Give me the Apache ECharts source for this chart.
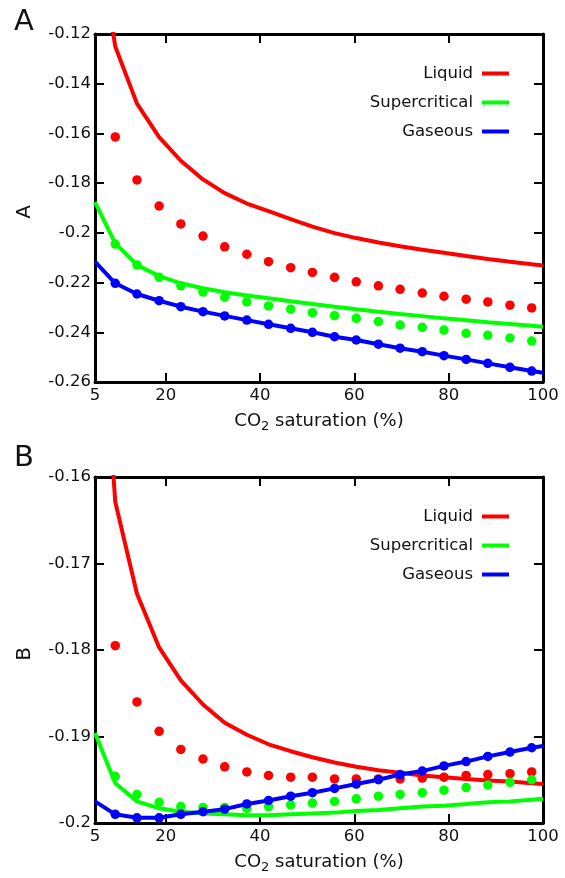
<!DOCTYPE html>
<html>
<head>
<meta charset="utf-8">
<script src="https://cdn.jsdelivr.net/npm/echarts@6/dist/echarts.min.js"></script>
<style>html,body{margin:0;padding:0;background:#fff}#c{width:565px;height:878px}</style>
</head>
<body>
<div id="c"></div>
<script>
// x positions of the sampled points (CO2 saturation, %)
const xDots = [9.3, 13.9, 18.6, 23.2, 27.9, 32.5, 37.2, 41.8, 46.5, 51.1, 55.8, 60.4, 65.1, 69.7, 74.4, 79.0, 83.7, 88.3, 93.0, 97.6];
const xLine = [5, 9.3, 13.9, 18.6, 23.2, 27.9, 32.5, 37.2, 41.8, 46.5, 51.1, 55.8, 60.4, 65.1, 69.7, 74.4, 79.0, 83.7, 88.3, 93.0, 97.6, 100];

// Panel A
const aLiquidLine = [-0.073, -0.125, -0.148, -0.1615, -0.171, -0.1785, -0.184, -0.1882, -0.1913, -0.1945, -0.1975, -0.2001, -0.2021, -0.2039, -0.2054, -0.2068, -0.2080, -0.2093, -0.2105, -0.2116, -0.2126, -0.2131];
const aLiquidDots = [-0.1614, -0.1787, -0.1892, -0.1964, -0.2013, -0.2056, -0.2086, -0.2116, -0.214, -0.2159, -0.2179, -0.2197, -0.2213, -0.2227, -0.2242, -0.2255, -0.2267, -0.2278, -0.2291, -0.2302];
const aSuperLine = [-0.1876, -0.2042, -0.2129, -0.2174, -0.2203, -0.2223, -0.2239, -0.2252, -0.2263, -0.2275, -0.2286, -0.2297, -0.2307, -0.2317, -0.2326, -0.2335, -0.2344, -0.2352, -0.236, -0.2367, -0.2374, -0.2378];
const aSuperDots = [-0.2045, -0.2129, -0.2179, -0.2213, -0.2238, -0.2259, -0.2278, -0.2294, -0.2307, -0.2321, -0.2333, -0.2344, -0.2357, -0.2371, -0.238, -0.2391, -0.2404, -0.2412, -0.2423, -0.2435];
const aGasLine = [-0.2116, -0.2203, -0.2246, -0.2273, -0.2297, -0.2317, -0.2334, -0.2351, -0.2368, -0.2384, -0.24, -0.2418, -0.2431, -0.2448, -0.2464, -0.2478, -0.2494, -0.2509, -0.2525, -0.2541, -0.2556, -0.2563];
const aGasDots = [-0.2203, -0.2246, -0.2273, -0.2297, -0.2317, -0.2334, -0.2351, -0.2368, -0.2384, -0.24, -0.2418, -0.2431, -0.2448, -0.2464, -0.2478, -0.2494, -0.2509, -0.2525, -0.2541, -0.2556];

// Panel B
const bLiquidLine = [-0.129, -0.1629, -0.1735, -0.1797, -0.1835, -0.1863, -0.1884, -0.1898, -0.1909, -0.1917, -0.1924, -0.193, -0.1935, -0.1939, -0.1942, -0.1945, -0.1947, -0.1949, -0.1951, -0.1952, -0.1954, -0.1955];
const bLiquidDots = [-0.1795, -0.186, -0.1894, -0.1915, -0.1926, -0.1935, -0.1941, -0.1945, -0.1947, -0.1947, -0.1949, -0.1949, -0.1949, -0.1949, -0.1948, -0.1947, -0.1945, -0.1944, -0.1943, -0.1941];
const bSuperLine = [-0.1896, -0.1954, -0.1975, -0.1983, -0.1987, -0.1989, -0.199, -0.1991, -0.1991, -0.199, -0.1989, -0.1988, -0.1986, -0.1985, -0.1983, -0.1981, -0.198, -0.1978, -0.1976, -0.1975, -0.1973, -0.1972];
const bSuperDots = [-0.1946, -0.1967, -0.1976, -0.1981, -0.1982, -0.1982, -0.1983, -0.1981, -0.1979, -0.1977, -0.1975, -0.1972, -0.1969, -0.1967, -0.1965, -0.1962, -0.1959, -0.1956, -0.1953, -0.195];
const bGasLine = [-0.1975, -0.199, -0.1994, -0.1994, -0.199, -0.1987, -0.1984, -0.1978, -0.1974, -0.1969, -0.1965, -0.196, -0.1955, -0.195, -0.1944, -0.194, -0.1934, -0.1929, -0.1923, -0.1918, -0.1913, -0.1911];
const bGasDots = [-0.199, -0.1994, -0.1994, -0.199, -0.1987, -0.1984, -0.1978, -0.1974, -0.1969, -0.1965, -0.196, -0.1955, -0.195, -0.1944, -0.194, -0.1934, -0.1929, -0.1923, -0.1918, -0.1913];

const xTickLabels = [5, 20, 40, 60, 80, 100];
const xTicks = [20, 40, 60, 80];
const legendNames = ['Liquid', 'Supercritical', 'Gaseous'];
const colors = { Liquid: '#ff0000', Supercritical: '#00ff00', Gaseous: '#0000ff' };

const FONT = 'DejaVu Sans';
const pair = (xs, ys) => xs.map((x, i) => [x, ys[i]]);

function xAxes(gridIndex) {
  const common = {
    type: 'value', gridIndex, min: 5, max: 100,
    splitLine: { show: false },
    axisLine: { show: true, onZero: false, lineStyle: { color: '#000', width: 3 } },
    axisTick: { show: true, inside: true, length: 9, customValues: xTicks, lineStyle: { color: '#000', width: 2 } }
  };
  return [
    Object.assign({}, common, {
      position: 'bottom',
      axisLabel: { show: true, customValues: xTickLabels, margin: 5, color: '#111', fontSize: 16.5, fontFamily: FONT },
      name: '{a|CO}{s|2}{a| saturation (%)}',
      nameLocation: 'middle', nameGap: 28,
      nameTextStyle: { rich: { a: { fontSize: 18, fontFamily: FONT, color: '#111' }, s: { fontSize: 13, fontFamily: FONT, color: '#111', padding: [10, 0, 0, 0] } } }
    }),
    Object.assign({}, common, { position: 'top', axisLabel: { show: false } })
  ];
}
function yAxes(gridIndex, min, max, interval, name) {
  const common = {
    type: 'value', gridIndex, min, max, interval,
    splitLine: { show: false },
    axisLine: { show: true, onZero: false, lineStyle: { color: '#000', width: 3 } },
    axisTick: { show: true, inside: true, length: 9, lineStyle: { color: '#000', width: 2 } }
  };
  return [
    Object.assign({}, common, {
      position: 'left',
      axisLabel: { show: true, margin: 4, color: '#111', fontSize: 16.5, fontFamily: FONT,
        formatter: v => String(parseFloat(v.toFixed(3))) },
      name, nameLocation: 'middle', nameGap: 60,
      nameTextStyle: { fontSize: 20, fontFamily: FONT, color: '#111', padding: [0, 8, 0, 0] }
    }),
    Object.assign({}, common, { position: 'right', axisLabel: { show: false } })
  ];
}
function legend(top) {
  return {
    data: legendNames, orient: 'vertical', right: 51, top, align: 'right',
    itemWidth: 27, itemHeight: 4, itemGap: 12, icon: 'rect', selectedMode: false,
    textStyle: { fontSize: 16.5, fontFamily: FONT, color: '#111', padding: [0, 4, 0, 0] }
  };
}
function seriesFor(xi, yi, lines, dots) {
  const out = [];
  legendNames.forEach((n, k) => {
    out.push({
      name: n, type: 'line', xAxisIndex: xi, yAxisIndex: yi, data: pair(xLine, lines[k]),
      showSymbol: false, symbol: 'none', clip: true, animation: false,
      lineStyle: { color: colors[n], width: 4 }, itemStyle: { color: colors[n] }, z: 2 + k * 2
    });
    out.push({
      name: n + ' points', type: 'scatter', xAxisIndex: xi, yAxisIndex: yi, data: pair(xDots, dots[k]),
      symbol: 'circle', symbolSize: 9.5, animation: false,
      itemStyle: { color: colors[n], opacity: 1 }, z: 3 + k * 2
    });
  });
  return out;
}

const chart = echarts.init(document.getElementById('c'), null, { renderer: 'canvas' });
chart.setOption({
  backgroundColor: '#fff',
  animation: false,
  grid: [
    { left: 95, top: 34, width: 448, height: 348 },
    { left: 95, top: 477, width: 448, height: 346 }
  ],
  xAxis: [].concat(xAxes(0), xAxes(1)),
  yAxis: [].concat(yAxes(0, -0.26, -0.12, 0.02, 'A'), yAxes(1, -0.2, -0.16, 0.01, 'B')),
  legend: [legend(60), legend(503)],
  graphic: [
    { type: 'text', left: 14, top: 8, style: { text: 'A', fontSize: 29, fontFamily: FONT, fill: '#111' } },
    { type: 'text', left: 14, top: 444, style: { text: 'B', fontSize: 29, fontFamily: FONT, fill: '#111' } }
  ],
  series: [].concat(
    seriesFor(0, 0, [aLiquidLine, aSuperLine, aGasLine], [aLiquidDots, aSuperDots, aGasDots]),
    seriesFor(2, 2, [bLiquidLine, bSuperLine, bGasLine], [bLiquidDots, bSuperDots, bGasDots])
  )
});
</script>
</body>
</html>
